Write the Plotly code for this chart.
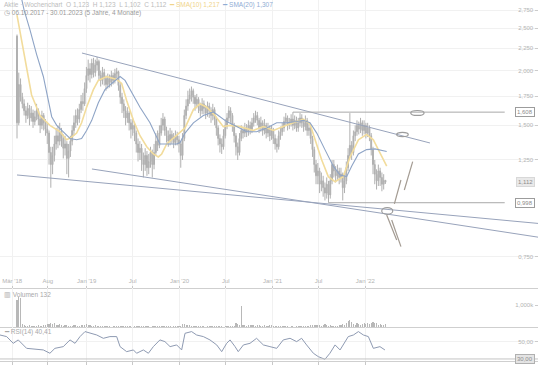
import numpy as np
import pandas as pd
import plotly.graph_objects as go
from plotly.subplots import make_subplots

# ---------------- data (weekly candles, week index 0 = 2018-04-02) ----------------
START = "2018-04-02"
first_open = 2.40

close = [
    1.52, 1.86, 1.74, 1.68, 1.62, 1.58, 1.64, 1.56, 1.60, 1.53,
    1.57, 1.62, 1.55, 1.50, 1.58, 1.52, 1.47, 1.44, 1.30, 1.22,
    1.28, 1.36, 1.42, 1.38, 1.45, 1.40, 1.33, 1.36, 1.26, 1.31,
    1.38, 1.46, 1.52, 1.58, 1.55, 1.63, 1.70, 1.68, 1.82, 1.95,
    2.02, 1.96, 2.08, 1.98, 2.06, 2.10, 1.95, 1.90, 1.98, 1.92,
    1.86, 1.92, 1.88, 1.95, 1.90, 1.97, 1.99, 1.85, 1.74, 1.68,
    1.62, 1.56, 1.60, 1.52, 1.47, 1.50, 1.44, 1.36, 1.30, 1.33,
    1.25, 1.22, 1.28, 1.20, 1.24, 1.30, 1.22, 1.30, 1.38, 1.35,
    1.44, 1.50, 1.55, 1.46, 1.42, 1.38, 1.43, 1.40, 1.37, 1.42,
    1.39, 1.36, 1.28, 1.40, 1.58, 1.66, 1.72, 1.76, 1.80, 1.74,
    1.68, 1.72, 1.66, 1.62, 1.68, 1.64, 1.60, 1.66, 1.62, 1.58,
    1.63, 1.55, 1.48, 1.40, 1.36, 1.34, 1.42, 1.50, 1.56, 1.62,
    1.58, 1.50, 1.42, 1.34, 1.30, 1.40, 1.46, 1.44, 1.48, 1.45,
    1.50, 1.47, 1.52, 1.56, 1.58, 1.54, 1.48, 1.52, 1.46, 1.50,
    1.44, 1.48, 1.42, 1.46, 1.40, 1.36, 1.34, 1.42, 1.45, 1.48,
    1.53, 1.56, 1.50, 1.52, 1.55, 1.50, 1.54, 1.48, 1.52, 1.56,
    1.52, 1.49, 1.54, 1.46, 1.48, 1.40, 1.32, 1.22, 1.15, 1.18,
    1.10, 1.12, 1.08, 1.05, 1.10, 1.04, 1.12, 1.22, 1.18, 1.15,
    1.18, 1.14, 1.16, 1.08, 1.12, 1.20, 1.28, 1.35, 1.30, 1.42,
    1.45, 1.50, 1.47, 1.52, 1.46, 1.50, 1.44, 1.48, 1.42, 1.32,
    1.22, 1.16, 1.12, 1.18, 1.14, 1.10, 1.123, 1.112,
]
high = [
    2.42, 1.98, 1.92, 1.78, 1.72, 1.66, 1.69, 1.67, 1.66, 1.63,
    1.62, 1.68, 1.64, 1.58, 1.62, 1.60, 1.55, 1.52, 1.46, 1.34,
    1.34, 1.42, 1.48, 1.50, 1.52, 1.48, 1.43, 1.42, 1.38, 1.36,
    1.42, 1.50, 1.58, 1.63, 1.64, 1.68, 1.76, 1.78, 1.88, 2.04,
    2.12, 2.08, 2.13, 2.14, 2.12, 2.15, 2.12, 2.00, 2.04, 2.02,
    1.95, 1.97, 1.96, 2.00, 1.98, 2.02, 2.03, 2.00, 1.88, 1.78,
    1.72, 1.66, 1.65, 1.62, 1.55, 1.56, 1.52, 1.46, 1.40, 1.38,
    1.36, 1.30, 1.33, 1.31, 1.29, 1.34, 1.32, 1.36, 1.44, 1.46,
    1.50, 1.56, 1.60, 1.57, 1.49, 1.46, 1.48, 1.46, 1.44, 1.46,
    1.45, 1.42, 1.38, 1.44, 1.63, 1.72, 1.80, 1.82, 1.84, 1.82,
    1.76, 1.77, 1.74, 1.69, 1.73, 1.71, 1.67, 1.70, 1.69, 1.65,
    1.68, 1.65, 1.57, 1.50, 1.43, 1.40, 1.47, 1.55, 1.60, 1.66,
    1.65, 1.60, 1.52, 1.44, 1.37, 1.44, 1.50, 1.49, 1.52, 1.51,
    1.54, 1.53, 1.56, 1.60, 1.62, 1.61, 1.56, 1.57, 1.54, 1.55,
    1.52, 1.52, 1.50, 1.50, 1.48, 1.43, 1.40, 1.46, 1.49, 1.52,
    1.57, 1.60, 1.58, 1.56, 1.59, 1.608, 1.58, 1.57, 1.56, 1.60,
    1.59, 1.55, 1.58, 1.56, 1.52, 1.50, 1.42, 1.34, 1.25, 1.23,
    1.20, 1.17, 1.15, 1.11, 1.14, 1.12, 1.16, 1.25, 1.25, 1.21,
    1.22, 1.20, 1.20, 1.17, 1.16, 1.24, 1.33, 1.60, 1.38, 1.46,
    1.50, 1.54, 1.53, 1.56, 1.54, 1.54, 1.52, 1.52, 1.50, 1.44,
    1.34, 1.25, 1.19, 1.22, 1.20, 1.17, 1.16, 1.123,
]
low = [
    1.40, 1.50, 1.70, 1.64, 1.58, 1.52, 1.55, 1.50, 1.53, 1.48,
    1.50, 1.54, 1.50, 1.44, 1.47, 1.46, 1.42, 1.36, 1.22, 1.08,
    1.16, 1.24, 1.32, 1.33, 1.35, 1.34, 1.26, 1.28, 1.16, 1.14,
    1.27, 1.35, 1.42, 1.48, 1.50, 1.52, 1.60, 1.62, 1.66, 1.78,
    1.90, 1.88, 1.92, 1.93, 1.94, 2.00, 1.90, 1.84, 1.86, 1.85,
    1.80, 1.82, 1.83, 1.84, 1.86, 1.87, 1.92, 1.80, 1.68, 1.60,
    1.56, 1.50, 1.52, 1.46, 1.40, 1.42, 1.38, 1.30, 1.24, 1.25,
    1.18, 1.14, 1.18, 1.15, 1.16, 1.20, 1.14, 1.19, 1.28, 1.31,
    1.33, 1.42, 1.46, 1.42, 1.37, 1.34, 1.35, 1.36, 1.33, 1.35,
    1.35, 1.30, 1.20, 1.25, 1.38, 1.55, 1.62, 1.68, 1.70, 1.68,
    1.62, 1.64, 1.60, 1.57, 1.59, 1.59, 1.55, 1.57, 1.56, 1.52,
    1.54, 1.50, 1.42, 1.35, 1.30, 1.29, 1.32, 1.40, 1.47, 1.53,
    1.52, 1.45, 1.37, 1.28, 1.25, 1.28, 1.38, 1.40, 1.41, 1.41,
    1.42, 1.43, 1.44, 1.49, 1.52, 1.50, 1.44, 1.45, 1.42, 1.43,
    1.40, 1.41, 1.38, 1.39, 1.36, 1.32, 1.30, 1.32, 1.39, 1.42,
    1.45, 1.50, 1.46, 1.47, 1.49, 1.46, 1.47, 1.45, 1.45, 1.49,
    1.48, 1.45, 1.46, 1.42, 1.42, 1.36, 1.27, 1.17, 1.10, 1.10,
    1.05, 1.06, 1.03, 1.01, 1.02, 0.998, 1.02, 1.10, 1.14, 1.11,
    1.12, 1.10, 1.11, 1.01, 1.05, 1.10, 1.18, 1.26, 1.25, 1.28,
    1.38, 1.42, 1.43, 1.44, 1.42, 1.43, 1.40, 1.41, 1.38, 1.28,
    1.16, 1.10, 1.07, 1.09, 1.09, 1.06, 1.07, 1.102,
]
volume_k = [
    1230, 1360, 1300, 150, 80, 60, 50, 70, 40, 60,
    50, 40, 70, 50, 60, 80, 100, 120, 150, 180,
    120, 170, 90, 110, 150, 80, 60, 70, 90, 60,
    50, 60, 70, 80, 60, 50, 70, 90, 110, 130,
    90, 80, 60, 50, 70, 40, 60, 50, 30, 40,
    30, 40, 30, 20, 30, 40, 30, 50, 60, 40,
    30, 40, 30, 50, 30, 20, 40, 60, 30, 50,
    40, 30, 60, 40, 30, 20, 40, 30, 50, 40,
    30, 40, 60, 50, 30, 40, 30, 20, 30, 40,
    30, 50, 60, 120, 150, 90, 110, 80, 60, 50,
    40, 60, 30, 40, 50, 30, 20, 40, 30, 50,
    30, 40, 60, 50, 30, 40, 20, 30, 40, 50,
    30, 40, 50, 160, 140, 100, 960, 80, 90, 60,
    100, 70, 90, 80, 60, 110, 70, 50, 60, 80,
    60, 50, 70, 90, 60, 40, 50, 40, 60, 30,
    40, 30, 50, 20, 40, 30, 20, 30, 40, 30,
    40, 30, 50, 60, 40, 70, 80, 90, 110, 80,
    70, 60, 90, 120, 80, 60, 70, 50, 60, 40,
    50, 80, 100, 120, 90, 200, 260, 320, 240, 140,
    110, 160, 120, 100, 140, 180, 150, 200, 120, 180,
    210, 160, 170, 110, 120, 90, 80, 132,
]

# moving averages and RSI (week index, value)
sma10_idx = [0, 4.5, 8.2, 12.9, 18.5, 24.2, 27.9, 30.7, 33.5, 36.3, 39.1, 42.9, 45.7, 50.4, 56,
             58.8, 61.6, 65.4, 69.1, 72.9, 76.6, 79.4, 81.3, 84.1, 89.7, 94.4, 99.1, 102.8, 106.6,
             111.2, 115.9, 119.7, 125.3, 132.8, 138.4, 144, 149.6, 155.2, 160.9, 164.6, 167.4,
             171.2, 174.9, 178.7, 183.3, 187.1, 191.8, 196.4, 200.2, 203.9, 207.7]
sma10_val = [2.68, 2.12, 1.76, 1.58, 1.50, 1.45, 1.39, 1.41, 1.44, 1.52, 1.65, 1.81, 1.90, 1.94, 1.91,
             1.87, 1.71, 1.54, 1.42, 1.34, 1.29, 1.27, 1.29, 1.36, 1.42, 1.48, 1.63, 1.68, 1.65,
             1.58, 1.49, 1.50, 1.49, 1.46, 1.49, 1.46, 1.49, 1.52, 1.55, 1.51, 1.39,
             1.25, 1.145, 1.115, 1.145, 1.27, 1.39, 1.43, 1.39, 1.30, 1.21]
sma20_idx = [2.6, 4, 7.3, 11, 14.8, 17.6, 19.5, 22.3, 26, 29.8, 33.5, 36.3, 39.1, 42, 45.7, 49.4,
             53.2, 57.9, 60.7, 64.4, 69.1, 74.7, 78.5, 80.3, 89.7, 91.6, 94.4, 99.1, 104.7, 110.3,
             113.1, 117.8, 123.4, 129, 134.6, 140.3, 145.9, 151.5, 157.1, 160.9, 164.6, 168.4,
             173, 177.7, 181.5, 185.2, 188, 191.8, 196.4, 201.1, 207.7]
sma20_val = [2.92, 2.75, 2.48, 2.18, 1.94, 1.69, 1.57, 1.50, 1.45, 1.40, 1.39, 1.40, 1.46, 1.54, 1.69, 1.81,
             1.87, 1.94, 1.90, 1.78, 1.65, 1.52, 1.41, 1.36, 1.36, 1.37, 1.44, 1.52, 1.58, 1.61,
             1.58, 1.53, 1.49, 1.45, 1.45, 1.48, 1.52, 1.52, 1.53, 1.54, 1.52, 1.44,
             1.32, 1.21, 1.155, 1.145, 1.21, 1.29, 1.32, 1.325, 1.307]
rsi_idx = [-9.55, -5.8, -2.1, 0.7, 5.4, 9.2, 14.8, 18.5, 21.3, 26, 29.8, 32.6, 35.4, 38.2, 41, 44.8,
           48.5, 52.2, 56, 57.9, 61.6, 65.4, 67.2, 71, 73.8, 76.6, 80.3, 83.1, 86, 89.7, 92.5,
           94.4, 98.1, 100.9, 104.7, 108.4, 112.2, 115, 117.8, 119.7, 122.5, 124.3, 127.2,
           130.9, 134.6, 138.4, 142.1, 145.9, 149.6, 153.4, 157.1, 159.9, 162.7, 166.5, 169.3,
           173, 175.8, 178.7, 181.5, 184.3, 186.1, 189, 191.8, 194.6, 197.4, 200.2, 203.9, 206.7]
rsi_val = [58.2, 56.3, 48.4, 52.4, 42.5, 41.4, 40.6, 36.7, 42.5, 44.5, 52.4, 48.4, 56.3, 62.2, 60.2, 58.2,
           54.3, 56.3, 56.3, 44.5, 38.6, 40.6, 36.7, 40.6, 36.7, 44.5, 52.4, 50.4, 44.5, 46.5, 40.6,
           60.2, 62.2, 58.2, 56.3, 52.4, 46.5, 38.6, 48.4, 52.4, 44.5, 38.6, 46.5,
           48.4, 54.3, 46.5, 44.5, 42.5, 52.4, 54.3, 50.4, 54.3, 46.5, 36.7, 32.7,
           29.6, 36.7, 46.5, 40.6, 50.4, 56.3, 58.2, 62.2, 58.2, 56.3, 42.5, 44.5, 40.6]

# axis ticks
x_tick_dates = ["2018-03-14", "2018-08-01", "2019-01-01", "2019-07-01", "2020-01-01",
                "2020-07-01", "2021-01-01", "2021-07-01", "2022-01-01"]
x_tick_text = ["Mär '18", "Aug", "Jan '19", "Jul", "Jan '20", "Jul", "Jan '21", "Jul", "Jan '22"]
price_ticks = [0.75, 1.25, 1.5, 1.75, 2.0, 2.25, 2.5, 2.75]
price_tick_text = ["0,750", "1,250", "1,500", "1,750", "2,000", "2,250", "2,500", "2,750"]

# drawing anchors (week index, price)
trend_upper = [(36.5, 2.195), (232.0, 1.367)]
trend_low_a = [(0.0, 1.155), (294.0, 0.894)]
trend_low_b = [(42.1, 1.192), (294.0, 0.831)]
resistance = (155.0, 274.0, 1.608)
support = (175.0, 274.0, 0.998)
ellipses = [((221.2, 228.7), (1.580, 1.622)),
            ((213.3, 219.8), (1.413, 1.446)),
            ((204.9, 211.1), (0.939, 0.9725))]
pen_strokes = [[(212.0, 0.992), (215.7, 1.125)],
               [(217.6, 1.067), (222.3, 1.239)],
               [(207.7, 0.936), (213.3, 0.8205)],
               [(210.5, 0.9115), (215.7, 0.792)]]
x_range_idx = (-9.55, 292.7)
last_price = 1.112

# ---------------- figure ----------------
t0 = pd.Timestamp(START)


def wk(i):
    return t0 + pd.to_timedelta(np.asarray(i, dtype=float) * 7, unit="D")


dates = wk(np.arange(len(close)))
opens = [first_open] + close[:-1]

W, H = 538, 365
PLOT_H = 361
FONT = "Liberation Sans"
TXT = "#b4b4b4"
GRID = "#f1f1f1"
CANDLE = "#b0b0b0"
TREND = "#98a3bb"
LEVEL = "#a8a8a8"
YEL = "#f2dc9c"
BLU = "#8ea4c6"


def py(pix):
    return (PLOT_H - pix) / PLOT_H


fig = make_subplots(rows=3, cols=1, shared_xaxes=True, vertical_spacing=0,
                    row_heights=[288, 39, 34])

fig.add_trace(go.Candlestick(
    x=dates, open=opens, high=high, low=low, close=close,
    increasing=dict(line=dict(color=CANDLE, width=1), fillcolor=CANDLE),
    decreasing=dict(line=dict(color=CANDLE, width=1), fillcolor=CANDLE),
    whiskerwidth=0, hoverinfo="skip", showlegend=False), row=1, col=1)

fig.add_trace(go.Scatter(x=wk(sma10_idx), y=sma10_val, mode="lines",
                         line=dict(color=YEL, width=1.6), hoverinfo="skip",
                         showlegend=False), row=1, col=1)
fig.add_trace(go.Scatter(x=wk(sma20_idx), y=sma20_val, mode="lines",
                         line=dict(color=BLU, width=1.1), hoverinfo="skip",
                         showlegend=False), row=1, col=1)

for ln in (trend_upper, trend_low_a, trend_low_b):
    fig.add_trace(go.Scatter(x=wk([p[0] for p in ln]), y=[p[1] for p in ln], mode="lines",
                             line=dict(color=TREND, width=1), hoverinfo="skip",
                             showlegend=False), row=1, col=1)

for i0, i1, lvl in (resistance, support):
    fig.add_trace(go.Scatter(x=wk([i0, i1]), y=[lvl, lvl], mode="lines",
                             line=dict(color=LEVEL, width=1), hoverinfo="skip",
                             showlegend=False), row=1, col=1)

for st in pen_strokes:
    fig.add_trace(go.Scatter(x=wk([p[0] for p in st]), y=[p[1] for p in st], mode="lines",
                             line=dict(color="#a39b92", width=1.2), hoverinfo="skip",
                             showlegend=False), row=1, col=1)

for (xa, xb), (ya, yb) in ellipses:
    fig.add_shape(type="circle", xref="x", yref="y",
                  x0=wk(xa), x1=wk(xb), y0=ya, y1=yb,
                  line=dict(color="#9c9c9c", width=1.2), fillcolor="rgba(0,0,0,0)")

fig.add_trace(go.Bar(x=dates, y=volume_k, marker=dict(color="#b8b8b8", line=dict(width=0)),
                     width=4.5 * 86400000, hoverinfo="skip", showlegend=False), row=2, col=1)

fig.add_trace(go.Scatter(x=wk(rsi_idx), y=rsi_val, mode="lines",
                         line=dict(color="#8e9ab2", width=1), hoverinfo="skip",
                         showlegend=False), row=3, col=1)
fig.add_trace(go.Scatter(x=wk(list(x_range_idx)), y=[30, 30], mode="lines",
                         line=dict(color="#c4c4c4", width=1), hoverinfo="skip",
                         showlegend=False), row=3, col=1)

xr = [wk(x_range_idx[0]), wk(x_range_idx[1])]
tickfont = dict(family=FONT, size=6, color=TXT)

fig.update_xaxes(type="date", range=xr, tickvals=x_tick_dates, ticktext=x_tick_text,
                 showgrid=True, gridcolor=GRID, gridwidth=1, zeroline=False,
                 showline=True, linecolor="#cfcfcf", linewidth=1, tickfont=tickfont,
                 rangeslider=dict(visible=False))
fig.update_xaxes(showticklabels=True, ticklabelposition="inside", ticks="inside",
                 ticklen=2, tickcolor="#c8c8c8", row=1, col=1)
fig.update_xaxes(showticklabels=False, ticks="", row=2, col=1)
fig.update_xaxes(showticklabels=False, ticks="outside", ticklen=3, tickcolor="#c8c8c8",
                 row=3, col=1)

fig.update_yaxes(side="right", ticklabelposition="inside", tickfont=tickfont,
                 zeroline=False, showline=False, ticks="inside", ticklen=3,
                 tickcolor="#cccccc")
fig.update_yaxes(type="log", range=[np.log10(0.637), np.log10(2.902)],
                 tickvals=price_ticks, ticktext=price_tick_text,
                 showgrid=True, gridcolor=GRID, row=1, col=1)
fig.update_yaxes(range=[0, 1773], tickvals=[1000], ticktext=["1,000k"],
                 showgrid=False, row=2, col=1)
fig.update_yaxes(range=[27.6, 67.6], tickvals=[50], ticktext=["50,00"],
                 showgrid=True, gridcolor=GRID, row=3, col=1)

fig.layout.yaxis.domain = [py(288), 1.0]
fig.layout.yaxis2.domain = [py(327), py(288)]
fig.layout.yaxis3.domain = [0.0, py(327)]

ann = []
hdr1 = ("<span style='color:#bcbcbc'>Aktie · Wochenchart  O 1,123  H 1,123  L 1,102  C 1,112</span>"
        "  <span style='color:#f0d48a'>━ SMA(10) 1,217</span>"
        "  <span style='color:#90acd4'>━ SMA(20) 1,307</span>")
ann.append(dict(xref="paper", yref="paper", x=2 / W, y=py(5), xanchor="left", yanchor="middle",
                text=hdr1, showarrow=False, font=dict(family=FONT, size=6.5, color="#bcbcbc")))
ann.append(dict(xref="paper", yref="paper", x=2 / W, y=py(12.5), xanchor="left", yanchor="middle",
                text="◷ 06.10.2017 - 30.01.2023 (5 Jahre, 4 Monate)", showarrow=False,
                font=dict(family=FONT, size=6.5, color="#9a9a9a")))
ann.append(dict(xref="paper", yref="paper", x=2 / W, y=py(294), xanchor="left", yanchor="middle",
                text="▥ Volumen 132", showarrow=False,
                font=dict(family=FONT, size=6.5, color="#a8a8a8")))
ann.append(dict(xref="paper", yref="paper", x=2 / W, y=py(332), xanchor="left", yanchor="middle",
                text="━ RSI(14) 40,41", showarrow=False,
                font=dict(family=FONT, size=6.5, color="#a8a8a8")))


def box(y, yref, text, bg, border):
    return dict(xref="paper", yref=yref, x=535 / W, y=y, xanchor="right", yanchor="middle",
                text=text, showarrow=False, bgcolor=bg, bordercolor=border, borderwidth=1,
                borderpad=1, font=dict(family=FONT, size=6, color="#8c8c8c"))


ann.append(box(np.log10(resistance[2]), "y", "1,608", "#ffffff", "#9c9c9c"))
ann.append(box(np.log10(last_price), "y", "1,112", "#e9e9e9", "#d8d8d8"))
ann.append(box(np.log10(support[2]), "y", "0,998", "#ffffff", "#9c9c9c"))
ann.append(box(30, "y3", "30,00", "#e4e4e4", "#b0b0b0"))

fig.update_layout(width=W, height=H, margin=dict(l=0, r=0, t=0, b=H - PLOT_H),
                  paper_bgcolor="white", plot_bgcolor="white", annotations=ann,
                  showlegend=False, bargap=0, hovermode=False,
                  font=dict(family=FONT, size=6, color=TXT))

fig.write_html("out.html", config={"displayModeBar": False, "staticPlot": True},
               post_script="document.body.style.margin='0';document.body.style.padding='0';"
                           "document.body.style.overflow='hidden';")
